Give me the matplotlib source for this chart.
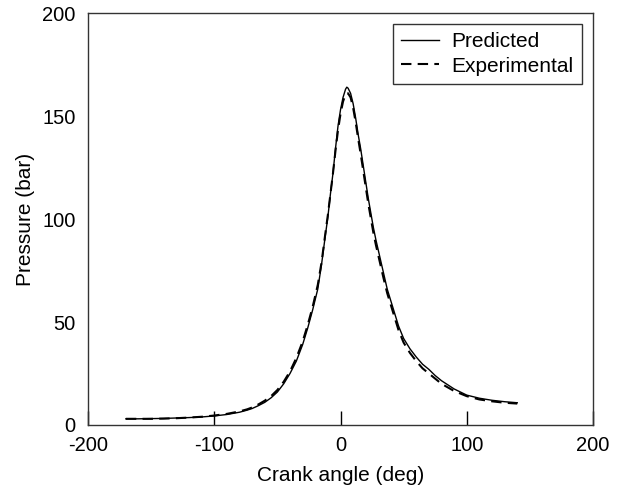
import matplotlib
matplotlib.use("Agg")
import matplotlib.pyplot as plt

plt.rcParams["font.family"] = ["Liberation Sans", "DejaVu Sans"]
plt.rcParams["axes.unicode_minus"] = False

# crank angle (deg) and cylinder pressure (bar)
angle_pred = [-170, -160, -150, -140, -130, -120, -110, -100, -90, -80, -74, -70,
              -65, -60, -55, -50, -45, -40, -35, -30, -26, -22, -18, -15, -12,
              -10, -8, -6, -4, -2, 0, 2, 4, 5, 6, 8, 10, 12, 14, 16, 18, 20, 22,
              24, 26, 28, 31, 34, 37, 40, 43, 46, 50, 55, 60, 65, 70, 75, 80, 90,
              100, 110, 120, 130, 140]
p_pred = [3.0, 3.0, 3.1, 3.2, 3.4, 3.6, 3.9, 4.4, 5.1, 6.2, 7.2, 8.0,
          9.4, 11.0, 13.2, 16.0, 20, 25, 31, 39, 47, 56, 66, 78, 92,
          101, 112, 122, 134, 145, 153, 159, 163, 164, 163.5, 161, 156, 149,
          141, 134, 126, 118, 110, 103, 96, 90, 82, 74, 66, 60, 54, 48, 42, 37,
          33, 29.5, 27, 24, 21.5, 17.5, 14.5, 13.0, 12.0, 11.3, 10.8]

angle_exp = angle_pred
p_exp = [3.0, 3.0, 3.0, 3.1, 3.3, 3.6, 4.0, 4.6, 5.4, 6.6, 7.6, 8.5,
         10.0, 11.8, 14.0, 17.0, 21, 26, 32.5, 40.5, 48.5, 57.5, 68, 79, 93,
         102, 112, 122, 133, 143, 151, 157, 160.5, 161, 161, 159, 154, 147,
         139, 131.5, 123.5, 115.5, 107.5, 100.5, 93.5, 87.5, 79.5, 71.5, 64,
         58, 52, 46, 40, 35, 31, 27.5, 25, 22.5, 20, 16.5, 14, 12.4, 11.5,
         10.8, 10.4]

fig = plt.figure(figsize=(6.22, 4.90), dpi=100)
ax = fig.add_axes([88 / 622, 1 - 425 / 490, 505 / 622, 412 / 490])

ax.plot(angle_pred, p_pred, color="black", lw=1.0, label="Predicted")
ax.plot(angle_exp, p_exp, color="black", lw=1.5, dashes=(5, 3),
        label="Experimental")

ax.set_xlim(-200, 200)
ax.set_ylim(0, 200)
ax.set_xticks([-200, -100, 0, 100, 200])
ax.set_yticks([0, 50, 100, 150, 200])
ax.tick_params(axis="x", direction="in", length=10, width=1, labelsize=14.5,
               top=False, pad=8)
ax.tick_params(axis="y", direction="in", length=0, labelsize=14.5,
               right=False, pad=9)
for s in ax.spines.values():
    s.set_color("#333333")
    s.set_linewidth(1.0)

ax.set_xlabel("Crank angle (deg)", fontsize=15, labelpad=8)
ax.set_ylabel("Pressure (bar)", fontsize=15, labelpad=5)

leg = ax.legend(loc="upper right", bbox_to_anchor=(0.978, 0.973),
                borderaxespad=0, fontsize=15, handlelength=1.8,
                handletextpad=0.6, fancybox=False, framealpha=1,
                borderpad=0.4, labelspacing=0.25)
leg.get_frame().set_edgecolor("#333333")
leg.get_frame().set_linewidth(1.0)

fig.savefig("out.png", dpi=100)
